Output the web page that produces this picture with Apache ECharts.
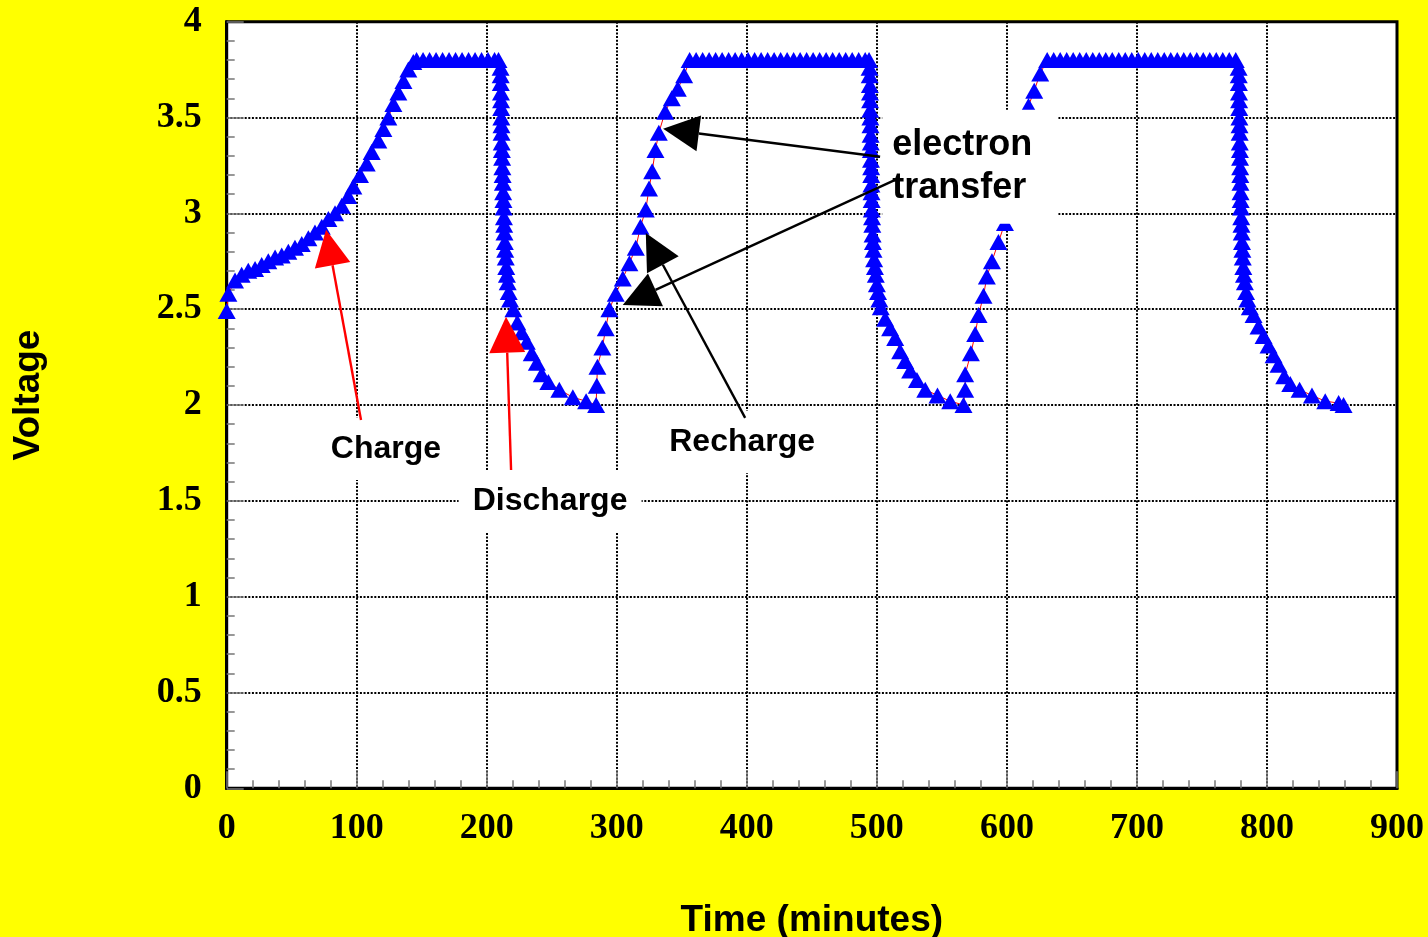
<!DOCTYPE html>
<html>
<head>
<meta charset="utf-8">
<title>Voltage vs time</title>
<script src="https://cdn.jsdelivr.net/npm/echarts@6/dist/echarts.min.js"></script>
<style>
  html, body { margin: 0; padding: 0; background: #ffff00; }
  #chart { width: 1428px; height: 937px; }
</style>
</head>
<body>
<div id="chart"></div>
<script>
// readings: [time (min), voltage]
const charge1 = [
  [0, 2.49], [1.3, 2.58], [6.4, 2.65], [11.5, 2.68], [16.6, 2.70], [21.8, 2.71], [26.9, 2.73],
  [32, 2.75], [37.2, 2.77], [42.3, 2.78], [47.4, 2.80], [52.5, 2.82], [57.7, 2.84], [62.8, 2.87],
  [67.9, 2.90], [73.1, 2.93], [78.2, 2.97], [83.3, 3.00], [88.5, 3.04], [93.5, 3.09], [97.4, 3.14],
  [102.5, 3.20], [107.7, 3.26], [111.5, 3.32], [116.6, 3.38], [120.5, 3.44], [124.3, 3.50],
  [128.2, 3.57], [132, 3.63], [135.9, 3.69], [139.7, 3.75], [143.5, 3.79]
];
const plateau1 = [
  [146, 3.8], [151, 3.8], [156, 3.8], [161, 3.8], [166, 3.8], [171, 3.8], [176, 3.8],
  [181, 3.8], [186, 3.8], [191, 3.8], [196, 3.8], [201, 3.8], [206, 3.8], [209, 3.8]
];
const discharge1 = [
  [210.6, 3.76], [210.7, 3.72], [210.8, 3.68], [210.9, 3.63], [211.0, 3.59], [211.1, 3.55],
  [211.2, 3.50], [211.3, 3.46], [211.4, 3.42], [211.5, 3.37], [211.6, 3.33], [211.8, 3.29],
  [212.0, 3.24], [212.2, 3.20], [212.4, 3.16], [212.6, 3.11], [212.8, 3.07], [213.0, 3.03],
  [213.2, 2.98], [213.4, 2.94], [213.6, 2.90], [213.9, 2.85], [214.2, 2.81], [214.6, 2.77],
  [215.0, 2.72], [215.5, 2.68], [216.1, 2.64], [216.9, 2.59], [217.9, 2.55],
  [220.5, 2.50], [223.5, 2.43], [226.9, 2.38], [230.8, 2.33], [234.6, 2.27], [238.5, 2.22],
  [242.3, 2.16], [247.4, 2.12], [255.8, 2.08], [266.2, 2.04], [276.4, 2.02], [284.1, 2.00]
];
const recharge1 = [
  [284.6, 2.10], [285.1, 2.20], [288.9, 2.30], [291.5, 2.40], [294.3, 2.50], [299.2, 2.58],
  [304.6, 2.66], [309.7, 2.74], [314.6, 2.82], [318.2, 2.93], [322.3, 3.02], [324.8, 3.13],
  [327.2, 3.22], [329.7, 3.33], [332.3, 3.42], [337.2, 3.53], [342.3, 3.60], [346.9, 3.65],
  [351.8, 3.72]
];
const plateau2 = [
  [356, 3.8], [361, 3.8], [366, 3.8], [371, 3.8], [376, 3.8], [381, 3.8], [386, 3.8], [391, 3.8],
  [396, 3.8], [401, 3.8], [406, 3.8], [411, 3.8], [416, 3.8], [421, 3.8], [426, 3.8], [431, 3.8],
  [436, 3.8], [441, 3.8], [446, 3.8], [451, 3.8], [456, 3.8], [461, 3.8], [466, 3.8], [471, 3.8],
  [476, 3.8], [481, 3.8], [486, 3.8], [491, 3.8], [494, 3.8]
];
const discharge2 = [
  [494.4, 3.76], [494.5, 3.72], [494.6, 3.67], [494.7, 3.63], [494.8, 3.59], [494.9, 3.54],
  [495.0, 3.50], [495.1, 3.46], [495.2, 3.41], [495.3, 3.37], [495.4, 3.33], [495.5, 3.28],
  [495.6, 3.24], [495.7, 3.20], [495.8, 3.15], [495.9, 3.11], [496.0, 3.07], [496.1, 3.02],
  [496.3, 2.98], [496.5, 2.94], [496.7, 2.89], [497.0, 2.85], [497.4, 2.81], [497.9, 2.76],
  [498.5, 2.72], [499.2, 2.68], [500.0, 2.63], [500.9, 2.59], [501.9, 2.55], [503.0, 2.51],
  [506.4, 2.45], [510.2, 2.40], [514.1, 2.35], [517.9, 2.28], [521.8, 2.23], [525.6, 2.18],
  [530.8, 2.13], [537.2, 2.08], [546.6, 2.05], [556.4, 2.02], [566.6, 2.00]
];
const recharge2 = [
  [567.9, 2.08], [567.9, 2.16], [572.3, 2.27], [575.6, 2.37], [578.2, 2.47], [582, 2.57],
  [584.6, 2.67], [588.5, 2.75], [593.5, 2.85], [598.5, 2.95],
  [616.6, 3.56], [621, 3.64], [625.6, 3.73]
];
const plateau3 = [
  [631, 3.8], [636, 3.8], [641, 3.8], [646, 3.8], [651, 3.8], [656, 3.8], [661, 3.8], [666, 3.8],
  [671, 3.8], [676, 3.8], [681, 3.8], [686, 3.8], [691, 3.8], [696, 3.8], [701, 3.8], [706, 3.8],
  [711, 3.8], [716, 3.8], [721, 3.8], [726, 3.8], [731, 3.8], [736, 3.8], [741, 3.8], [746, 3.8],
  [751, 3.8], [756, 3.8], [761, 3.8], [766, 3.8], [771, 3.8], [776, 3.8]
];
const discharge3 = [
  [778.2, 3.76], [778.3, 3.72], [778.4, 3.68], [778.5, 3.63], [778.6, 3.59], [778.7, 3.55],
  [778.8, 3.50], [778.9, 3.46], [779.0, 3.42], [779.1, 3.37], [779.2, 3.33], [779.3, 3.29],
  [779.4, 3.24], [779.5, 3.20], [779.6, 3.16], [779.7, 3.11], [779.8, 3.07], [780.0, 3.03],
  [780.2, 2.98], [780.4, 2.94], [780.6, 2.90], [780.8, 2.85], [781.1, 2.81], [781.4, 2.77],
  [781.8, 2.72], [782.3, 2.68], [783.0, 2.64], [783.9, 2.59], [785.0, 2.55], [786.8, 2.51],
  [789.7, 2.47], [793.5, 2.41], [797.4, 2.36], [801.2, 2.31], [805.1, 2.26], [808.9, 2.21],
  [813.3, 2.15], [817.9, 2.11], [825.1, 2.08], [834.6, 2.05], [844.8, 2.02], [855.1, 2.01],
  [858.9, 2.00]
];
// small green stroke on the first plateau
const greenMark = [[157, 3.775], [161.5, 3.83]];

// annotations, in data units
const labelBoxes = [
  { lines: ['Charge'], at: [122.5, 1.771], w: 130, h: 62 },
  { lines: ['Discharge'], at: [248.7, 1.497], w: 183, h: 63 },
  { lines: ['Recharge'], at: [396.4, 1.807], w: 176, h: 62 },
  { lines: ['electron', 'transfer'], at: [571.8, 3.243], w: 176, h: 114, big: true }
];
const arrows = [
  { from: [103.3, 1.922], to: [76.4, 2.914], color: '#ff0000' },
  { from: [218.7, 1.661], to: [214.8, 2.461], color: '#ff0000' },
  { from: [502.5, 3.295], to: [335.6, 3.441], color: '#000' },
  { from: [514.1, 3.175], to: [304.6, 2.522], color: '#000' },
  { from: [398.7, 1.933], to: [322.3, 2.897], color: '#000' }
];

const voltageData = [].concat(charge1, plateau1, discharge1, recharge1, plateau2,
  discharge2, recharge2, plateau3, discharge3);

const tickFont = { fontFamily: 'Liberation Serif', fontWeight: 'bold', fontSize: 36, color: '#000' };
const gridDots = { color: '#000', width: 2, type: [2, 1.6] };

const chart = echarts.init(document.getElementById('chart'));

chart.setOption({
  backgroundColor: '#ffff00',
  animation: false,
  grid: {
    left: 226.7, right: 31, top: 21.7, bottom: 148.7,
    outerBoundsMode: 'none', containLabel: false,
    show: true, backgroundColor: '#fff', borderColor: '#000', borderWidth: 3
  },
  xAxis: {
    type: 'value', min: 0, max: 900, interval: 100,
    axisLine: { onZero: false, lineStyle: { color: '#000', width: 3 } },
    axisTick: { inside: true, length: 17, lineStyle: { color: '#777', width: 1.5 } },
    minorTick: { show: true, splitNumber: 5, length: 8, lineStyle: { color: '#777', width: 1.5 } },
    splitLine: { show: true, lineStyle: gridDots },
    axisLabel: Object.assign({ margin: 22 }, tickFont),
    name: 'Time (minutes)', nameLocation: 'middle', nameGap: 114,
    nameTextStyle: { fontFamily: 'Liberation Sans', fontWeight: 'bold', fontSize: 37, color: '#000' }
  },
  yAxis: {
    type: 'value', min: 0, max: 4, interval: 0.5,
    axisLine: { onZero: false, lineStyle: { color: '#000', width: 3 } },
    axisTick: { inside: true, length: 17, lineStyle: { color: '#777', width: 1.5 } },
    minorTick: { show: true, splitNumber: 5, length: 8, lineStyle: { color: '#777', width: 1.5 } },
    splitLine: { show: true, lineStyle: gridDots },
    axisLabel: Object.assign({ margin: 25 }, tickFont)
  },
  series: [
    {
      name: 'Voltage', type: 'line', data: voltageData,
      symbol: 'triangle', symbolSize: [18, 16], showSymbol: true, showAllSymbol: true,
      lineStyle: { color: '#ff0000', width: 1 },
      itemStyle: { color: '#0000ff' }
    },
    {
      type: 'line', data: greenMark, symbol: 'none', z: 3,
      lineStyle: { color: '#00dd00', width: 2 }
    }
  ]
});

// annotations placed through the chart's own coordinate conversion
const px = (p) => chart.convertToPixel({ gridIndex: 0 }, p);
const graphics = [];

labelBoxes.forEach((b) => {
  const c = px(b.at);
  graphics.push({
    type: 'rect', z: 10, silent: true,
    shape: { x: c[0] - b.w / 2, y: c[1] - b.h / 2, width: b.w, height: b.h },
    style: { fill: '#fff' }
  });
  const lh = 43;
  b.lines.forEach((t, i) => {
    graphics.push({
      type: 'text', z: 11, silent: true,
      style: {
        text: t,
        x: b.big ? c[0] - b.w / 2 + 10 : c[0],
        y: c[1] + (i - (b.lines.length - 1) / 2) * lh,
        align: b.big ? 'left' : 'center', verticalAlign: 'middle',
        font: b.big ? 'bold 36px "Liberation Sans"' : 'bold 32px "Liberation Sans"',
        fill: '#000'
      }
    });
  });
});

arrows.forEach((a) => {
  const p0 = px(a.from), p1 = px(a.to);
  const dx = p1[0] - p0[0], dy = p1[1] - p0[1];
  const len = Math.hypot(dx, dy);
  const ux = dx / len, uy = dy / len;
  const headL = 36, headW = 36;
  const bx = p1[0] - ux * headL, by = p1[1] - uy * headL;
  graphics.push({
    type: 'line', z: 12, silent: true,
    shape: { x1: p0[0], y1: p0[1], x2: bx, y2: by },
    style: { stroke: a.color, lineWidth: 2.4 }
  });
  graphics.push({
    type: 'polygon', z: 12, silent: true,
    shape: { points: [
      [p1[0], p1[1]],
      [bx - uy * headW / 2, by + ux * headW / 2],
      [bx + uy * headW / 2, by - ux * headW / 2]
    ] },
    style: { fill: a.color }
  });
});

graphics.push({
  type: 'text', z: 11, silent: true, x: 28.5, y: 395, rotation: Math.PI / 2,
  style: {
    text: 'Voltage', x: 0, y: 0, align: 'center', verticalAlign: 'middle',
    font: 'bold 37px "Liberation Sans"', fill: '#000'
  }
});

chart.setOption({ graphic: graphics });
</script>
</body>
</html>
